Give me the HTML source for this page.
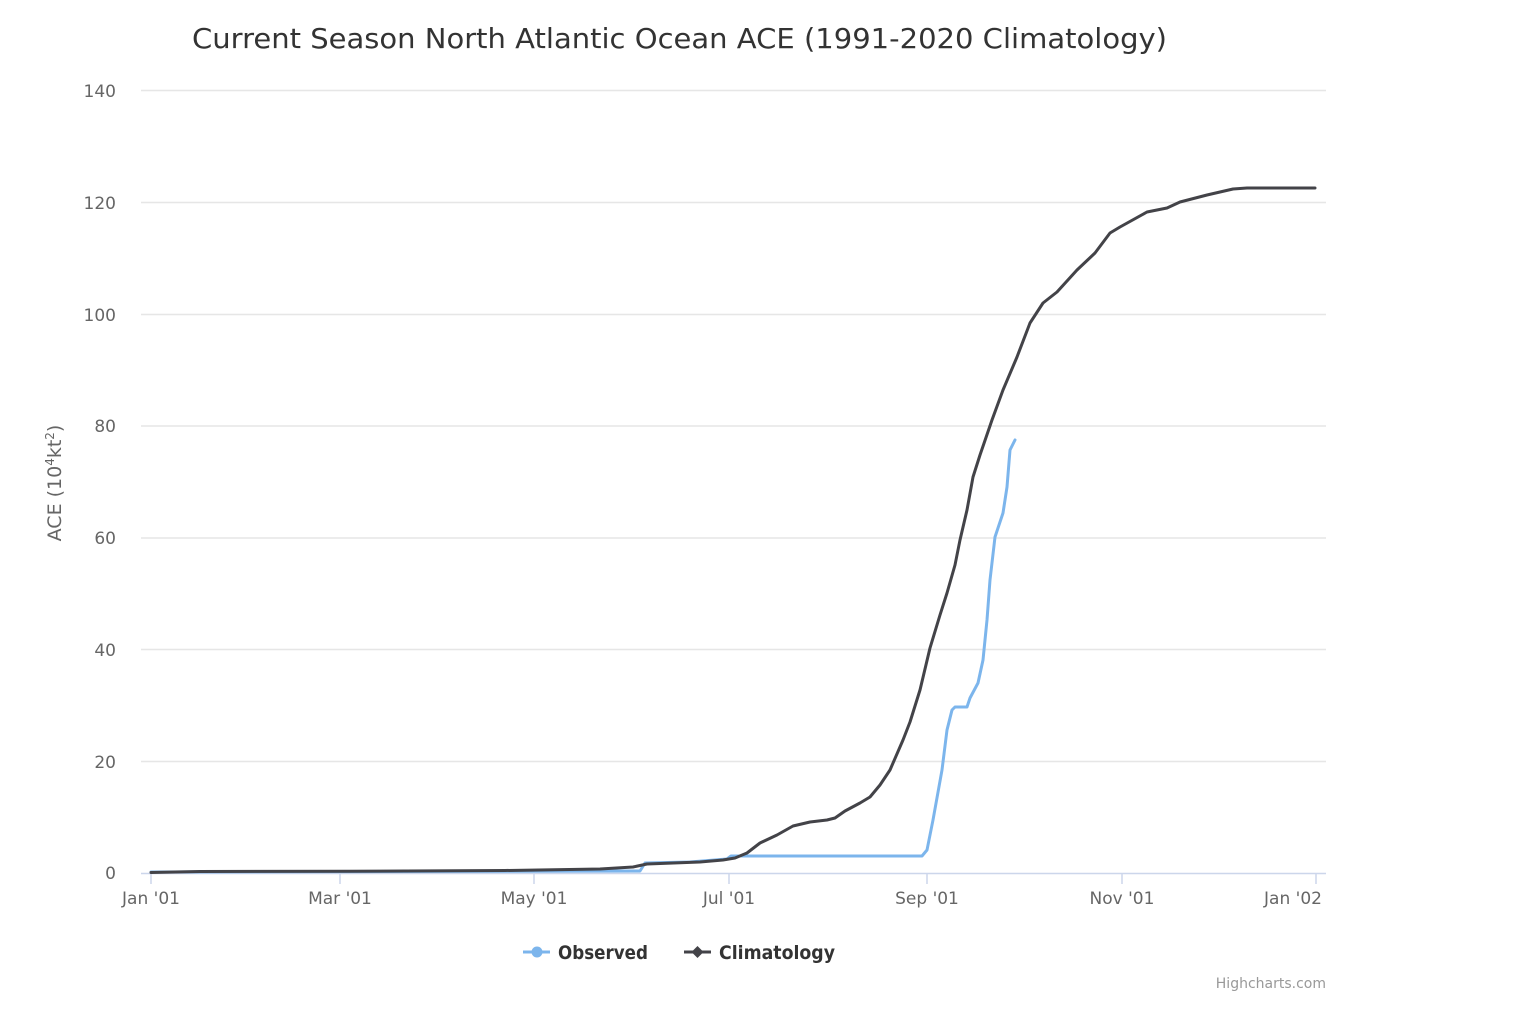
<!DOCTYPE html>
<html><head><meta charset="utf-8"><style>
html,body{margin:0;padding:0;background:#fff;}
svg{display:block;}
text{font-family:"DejaVu Sans","Liberation Sans",sans-serif;}
</style></head><body>
<svg width="1540" height="1010" viewBox="0 0 1540 1010" xmlns="http://www.w3.org/2000/svg">
<rect width="1540" height="1010" fill="#fff"/>
<text x="192" y="48" font-size="28" fill="#333333" textLength="975" lengthAdjust="spacingAndGlyphs">Current Season North Atlantic Ocean ACE (1991-2020 Climatology)</text>
<g stroke="#e6e6e6" stroke-width="1.5">
<line x1="141" y1="90.5" x2="1326" y2="90.5"/>
<line x1="141" y1="202.5" x2="1326" y2="202.5"/>
<line x1="141" y1="314.5" x2="1326" y2="314.5"/>
<line x1="141" y1="426" x2="1326" y2="426"/>
<line x1="141" y1="538" x2="1326" y2="538"/>
<line x1="141" y1="649.5" x2="1326" y2="649.5"/>
<line x1="141" y1="761.5" x2="1326" y2="761.5"/>
</g>
<g font-size="17" fill="#666666" text-anchor="end">
<text x="116" y="97">140</text>
<text x="116" y="209">120</text>
<text x="116" y="321">100</text>
<text x="116" y="432">80</text>
<text x="116" y="544">60</text>
<text x="116" y="656">40</text>
<text x="116" y="768">20</text>
<text x="116" y="879">0</text>
</g>
<text transform="translate(61,483) rotate(-90)" font-size="19" fill="#666666" text-anchor="middle">ACE (10<tspan font-size="12" dy="-7">4</tspan><tspan dy="7">kt</tspan><tspan font-size="12" dy="-7">2</tspan><tspan dy="7">)</tspan></text>
<line x1="141" y1="873.5" x2="1326" y2="873.5" stroke="#ccd6eb" stroke-width="1.5"/>
<g stroke="#ccd6eb" stroke-width="1.5">
<line x1="151" y1="873" x2="151" y2="884"/>
<line x1="340" y1="873" x2="340" y2="884"/>
<line x1="534" y1="873" x2="534" y2="884"/>
<line x1="729" y1="873" x2="729" y2="884"/>
<line x1="927" y1="873" x2="927" y2="884"/>
<line x1="1122" y1="873" x2="1122" y2="884"/>
<line x1="1316" y1="873" x2="1316" y2="884"/>
</g>
<g font-size="17" fill="#666666" text-anchor="middle">
<text x="151" y="904">Jan '01</text>
<text x="340" y="904">Mar '01</text>
<text x="534" y="904">May '01</text>
<text x="729" y="904">Jul '01</text>
<text x="927" y="904">Sep '01</text>
<text x="1122" y="904">Nov '01</text>
<text x="1293" y="904">Jan '02</text>
</g>
<polyline fill="none" stroke="#7cb5ec" stroke-width="3" stroke-linejoin="round" stroke-linecap="round" points="151,872 640,871 645,863 690,862 727,859 731,856 922,856 927,850 933,820 942,770 947,730 952,710 955,707 967,707 970,698 978,683 983,660 987,620 990,580 995,537 1003,513 1007,487 1010,450 1015,440"/>
<polyline fill="none" stroke="#434348" stroke-width="3" stroke-linejoin="round" stroke-linecap="round" points="151,872.5 200,871.5 350,871.3 505,870.5 600,869 633,867 647,864 700,862 723,860 735,858 747,853 760,843 777,835 793,826 810,822 827,820 835,818 845,811 860,803 870,797 880,785 890,770 903,740 910,722 920,690 930,648 940,615 947,593 955,565 960,540 967,510 973,477 980,455 992,420 1003,390 1017,357 1030,323 1043,303 1057,292 1077,270 1095,253 1110,233 1120,227 1147,212 1167,208 1180,202 1207,195 1233,189 1247,188 1315,188"/>
<line x1="523" y1="952" x2="550" y2="952" stroke="#7cb5ec" stroke-width="3"/>
<circle cx="537" cy="952" r="5.5" fill="#7cb5ec"/>
<text x="558" y="959" font-size="19" font-weight="bold" fill="#333333" textLength="90" lengthAdjust="spacingAndGlyphs">Observed</text>
<line x1="684" y1="952" x2="711" y2="952" stroke="#434348" stroke-width="3"/>
<path d="M697.5 946 L703.5 952 L697.5 958 L691.5 952 Z" fill="#434348"/>
<text x="719" y="959" font-size="19" font-weight="bold" fill="#333333" textLength="116" lengthAdjust="spacingAndGlyphs">Climatology</text>
<text x="1326" y="988" font-size="14" fill="#999999" text-anchor="end">Highcharts.com</text>
</svg>
</body></html>
